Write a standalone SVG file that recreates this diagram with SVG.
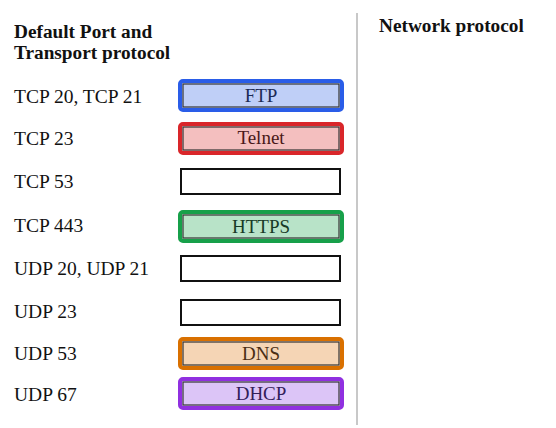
<svg xmlns="http://www.w3.org/2000/svg" width="556" height="428" viewBox="0 0 556 428">
<style>
text{font-family:"Liberation Serif","Times New Roman",serif;font-size:19.5px;fill:#111}
.h{font-weight:bold;font-size:19.3px}
.bt{text-anchor:middle;font-size:19px}
.out{stroke-width:4}
.in{stroke:#333;stroke-width:1.2}
.empty{fill:#fff;stroke:#111;stroke-width:2}
</style>
<rect width="556" height="428" fill="#fff"/>
<line x1="357" y1="13" x2="357" y2="425" stroke="#c8c8c8" stroke-width="2"/>
<g id="headers">
<text class="h" x="14" y="38">Default Port and</text>
<text class="h" x="14" y="59">Transport protocol</text>
<text class="h" x="379" y="32">Network protocol</text>
</g>
<g id="labels">
<text x="14" y="103">TCP 20, TCP 21</text>
<text x="14" y="145">TCP 23</text>
<text x="14" y="188">TCP 53</text>
<text x="14" y="232">TCP 443</text>
<text x="14" y="275">UDP 20, UDP 21</text>
<text x="14" y="318">UDP 23</text>
<text x="14" y="360">UDP 53</text>
<text x="14" y="401">UDP 67</text>
</g>
<g id="ftp">
<rect class="out" x="180" y="81" width="162" height="29" rx="3" fill="#bfcff7" stroke="#2a5de8"/>
<rect class="in" x="183" y="84" width="156" height="23" fill="#bfcff7"/>
<text class="bt" x="261" y="102" style="fill:#1c2b55">FTP</text>
</g>
<g id="telnet">
<rect class="out" x="180" y="124" width="162" height="29" rx="3" fill="#f4bfbf" stroke="#d9262a"/>
<rect class="in" x="183" y="127" width="156" height="23" fill="#f4bfbf"/>
<text class="bt" x="261" y="144" style="fill:#4a1818">Telnet</text>
</g>
<g id="tcp53">
<rect class="empty" x="181" y="169" width="159" height="25"/>
</g>
<g id="https">
<rect class="out" x="180" y="212" width="162" height="29" rx="3" fill="#b8e3c8" stroke="#17a04a"/>
<rect class="in" x="183" y="215" width="156" height="23" fill="#b8e3c8"/>
<text class="bt" x="261" y="233" style="fill:#173a26">HTTPS</text>
</g>
<g id="udp20">
<rect class="empty" x="181" y="256" width="159" height="25"/>
</g>
<g id="udp23">
<rect class="empty" x="181" y="300" width="159" height="25"/>
</g>
<g id="dns">
<rect class="out" x="180" y="339" width="162" height="29" rx="3" fill="#f5d5b5" stroke="#d97000"/>
<rect class="in" x="183" y="342" width="156" height="23" fill="#f5d5b5"/>
<text class="bt" x="261" y="360" style="fill:#4a2e14">DNS</text>
</g>
<g id="dhcp">
<rect class="out" x="180" y="379" width="162" height="29" rx="3" fill="#dcc5f7" stroke="#9030e0"/>
<rect class="in" x="183" y="382" width="156" height="23" fill="#dcc5f7"/>
<text class="bt" x="261" y="400" style="fill:#33205a">DHCP</text>
</g>
<g id="connectors"/>
</svg>
